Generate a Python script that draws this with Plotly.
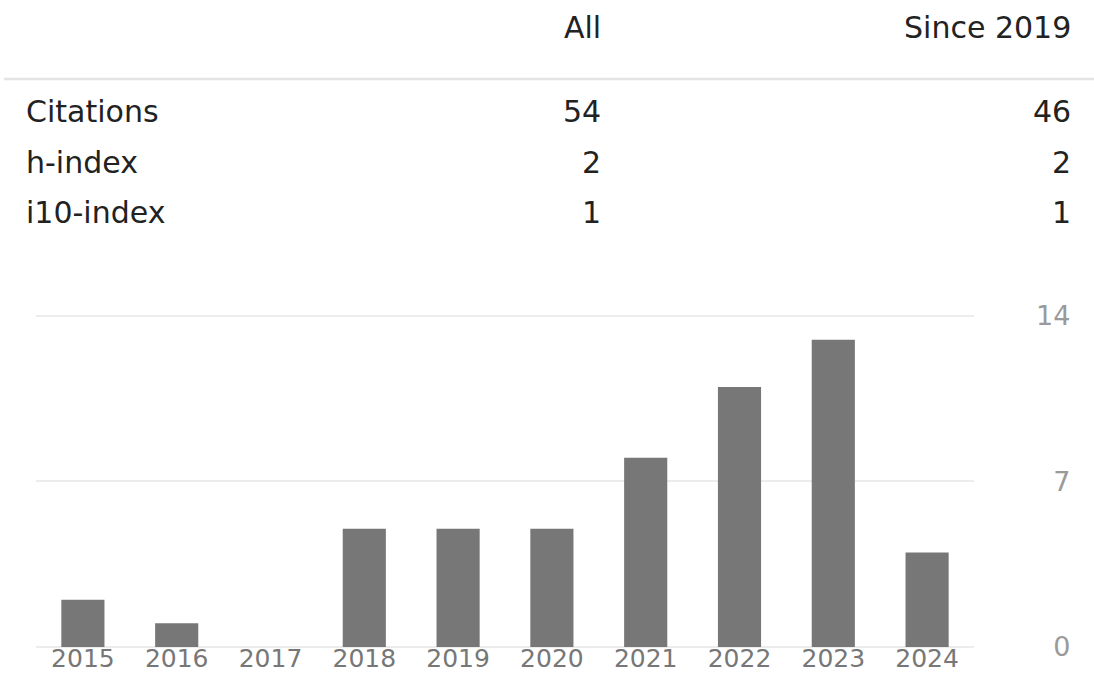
import plotly.graph_objects as go

# ---- data ----
years = ["2015", "2016", "2017", "2018", "2019", "2020", "2021", "2022", "2023", "2024"]
citations_per_year = [2, 1, 0, 5, 5, 5, 8, 11, 13, 4]

header_cols = ["All", "Since 2019"]
row_labels = ["Citations", "h-index", "i10-index"]
values_all = ["54", "2", "1"]
values_since = ["46", "2", "1"]

y_tick_vals = [0, 7, 14]
y_tick_text = ["\u20070", "\u20077", "14"]

# ---- layout helpers (pixel -> paper) ----
W, H = 1094, 674
def px(x):
    return x / W
def py(y):
    return 1 - y / H

FONT = "DejaVu Sans"
TEXT_COLOR = "#222222"
TSIZE = 30

fig = go.Figure()
fig.add_trace(go.Bar(
    x=years,
    y=citations_per_year,
    marker=dict(color="#777777", line=dict(width=0)),
    hoverinfo="x+y",
))

annotations = []
col_right = [603, 1073]
for name, xr in zip(header_cols, col_right):
    annotations.append(dict(text=name, x=px(xr), y=py(28), xref="paper", yref="paper",
                            xanchor="right", yanchor="middle", showarrow=False,
                            font=dict(family=FONT, size=TSIZE, color=TEXT_COLOR)))
row_y = [112, 163, 213]
for lab, va, vs, yy in zip(row_labels, values_all, values_since, row_y):
    annotations.append(dict(text=lab, x=px(24), y=py(yy), xref="paper", yref="paper",
                            xanchor="left", yanchor="middle", showarrow=False,
                            font=dict(family=FONT, size=TSIZE, color=TEXT_COLOR)))
    annotations.append(dict(text=va, x=px(col_right[0]), y=py(yy), xref="paper", yref="paper",
                            xanchor="right", yanchor="middle", showarrow=False,
                            font=dict(family=FONT, size=TSIZE, color=TEXT_COLOR)))
    annotations.append(dict(text=vs, x=px(col_right[1]), y=py(yy), xref="paper", yref="paper",
                            xanchor="right", yanchor="middle", showarrow=False,
                            font=dict(family=FONT, size=TSIZE, color=TEXT_COLOR)))

shapes = [dict(type="line", xref="paper", yref="paper",
               x0=px(4), x1=1, y0=py(79), y1=py(79),
               line=dict(color="#e4e4e4", width=2.5))]

# y: 0 at 647px, 14 at 316px
unit = (647 - 316) / 14.0
pad = 0.1
fig.update_layout(
    width=W, height=H,
    margin=dict(l=0, r=0, t=0, b=0),
    paper_bgcolor="white", plot_bgcolor="white",
    showlegend=False,
    bargap=0.54,
    annotations=annotations,
    shapes=shapes,
    xaxis=dict(
        domain=[px(36), px(974)],
        type="category",
        anchor="free", position=py(641),
        showgrid=False, zeroline=False, showline=False,
        ticks="", automargin=False,
        tickfont=dict(family=FONT, size=25, color="#777777"),
        ticklabelstandoff=0,
    ),
    yaxis=dict(
        domain=[py(647 + pad * unit), py(316 - pad * unit)],
        range=[-pad, 14 + pad],
        side="right",
        tickvals=y_tick_vals, ticktext=y_tick_text,
        showgrid=True, gridcolor="#ececec", gridwidth=2,
        zeroline=False, showline=False, ticks="",
        automargin=False,
        tickfont=dict(family=FONT, size=27, color="#9a9a9a"),
        ticklabelstandoff=61,
    ),
)

fig.write_html("out.html", config={"displayModeBar": False},
               post_script="document.body.style.margin='0';document.body.style.overflow='hidden';")
